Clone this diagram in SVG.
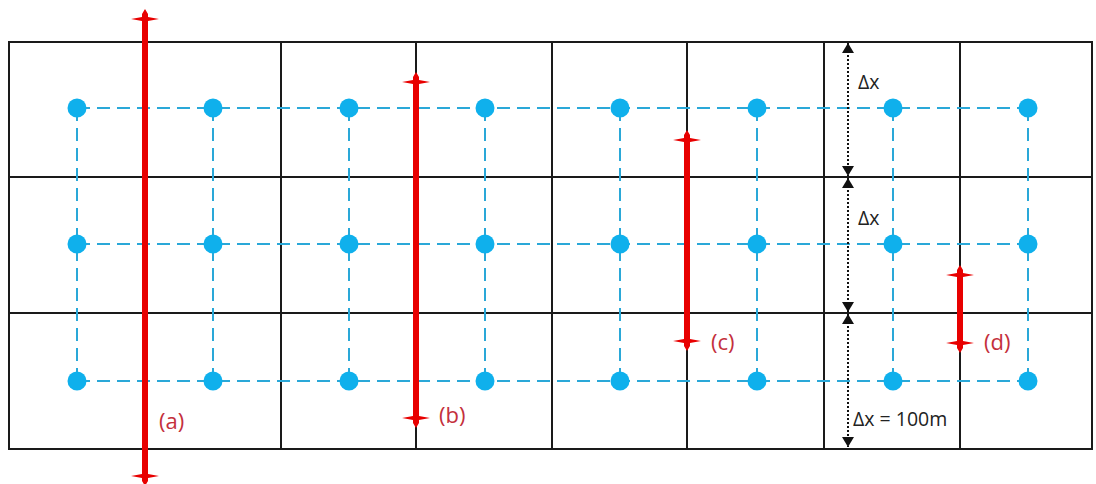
<svg xmlns="http://www.w3.org/2000/svg" width="1096" height="484" viewBox="0 0 1096 484">
  <style>
    .grid { stroke: #1a1a1a; stroke-width: 2; fill: none; }
    .dash { stroke: #2aa8d8; stroke-width: 2; stroke-dasharray: 13 7; fill: none; }
    .dot { fill: #0fb0ec; }
    .red { stroke: #e80000; stroke-width: 6; fill: none; }
    .cap { fill: #e80000; }
    .lbl { font-family: "Open Sans", "Liberation Sans", sans-serif; font-size: 22px; fill: #c4303c; }
    .dim { stroke: #111; stroke-width: 2; stroke-dasharray: 2 2; fill: none; }
    .dimtxt { font-family: "Open Sans", "Liberation Sans", sans-serif; font-size: 19.5px; fill: #222; }
  </style>
  <defs>
    <marker id="ah" viewBox="0 0 10 12" refX="10" refY="6" markerWidth="10" markerHeight="12" markerUnits="userSpaceOnUse" orient="auto-start-reverse">
      <path d="M0,0 L10,6 L0,12 Z" fill="#111"/>
    </marker>
    <path id="cap" d="M-14,0 L-3,-2 L-3,-5 L0,-10 L3,-5 L3,-2 L14,0 L3,2 L-3,2 Z"/>
  </defs>
  <rect width="1096" height="484" fill="#ffffff"/>

  <g id="grid" class="grid">
    <rect x="9" y="42" width="1083" height="407"/>
    <line x1="145" y1="42" x2="145" y2="449"/>
    <line x1="281" y1="42" x2="281" y2="449"/>
    <line x1="416" y1="42" x2="416" y2="449"/>
    <line x1="552" y1="42" x2="552" y2="449"/>
    <line x1="687" y1="42" x2="687" y2="449"/>
    <line x1="824" y1="42" x2="824" y2="449"/>
    <line x1="960" y1="42" x2="960" y2="449"/>
    <line x1="9" y1="177" x2="1092" y2="177"/>
    <line x1="9" y1="313" x2="1092" y2="313"/>
  </g>

  <g id="connectors" class="dash">
    <line x1="77" y1="108" x2="1028" y2="108"/>
    <line x1="77" y1="244" x2="1028" y2="244"/>
    <line x1="77" y1="381" x2="1028" y2="381"/>
    <line x1="77" y1="108" x2="77" y2="381"/>
    <line x1="213" y1="108" x2="213" y2="381"/>
    <line x1="349" y1="108" x2="349" y2="381"/>
    <line x1="485" y1="108" x2="485" y2="381"/>
    <line x1="620" y1="108" x2="620" y2="381"/>
    <line x1="757" y1="108" x2="757" y2="381"/>
    <line x1="893" y1="108" x2="893" y2="381"/>
    <line x1="1028" y1="108" x2="1028" y2="381"/>
  </g>

  <g id="nodes" class="dot">
    <g id="n-r1c1"><circle cx="77" cy="108" r="9.5"/></g>
    <g id="n-r1c2"><circle cx="213" cy="108" r="9.5"/></g>
    <g id="n-r1c3"><circle cx="349" cy="108" r="9.5"/></g>
    <g id="n-r1c4"><circle cx="485" cy="108" r="9.5"/></g>
    <g id="n-r1c5"><circle cx="620" cy="108" r="9.5"/></g>
    <g id="n-r1c6"><circle cx="757" cy="108" r="9.5"/></g>
    <g id="n-r1c7"><circle cx="893" cy="108" r="9.5"/></g>
    <g id="n-r1c8"><circle cx="1028" cy="108" r="9.5"/></g>
    <g id="n-r2c1"><circle cx="77" cy="244" r="9.5"/></g>
    <g id="n-r2c2"><circle cx="213" cy="244" r="9.5"/></g>
    <g id="n-r2c3"><circle cx="349" cy="244" r="9.5"/></g>
    <g id="n-r2c4"><circle cx="485" cy="244" r="9.5"/></g>
    <g id="n-r2c5"><circle cx="620" cy="244" r="9.5"/></g>
    <g id="n-r2c6"><circle cx="757" cy="244" r="9.5"/></g>
    <g id="n-r2c7"><circle cx="893" cy="244" r="9.5"/></g>
    <g id="n-r2c8"><circle cx="1028" cy="244" r="9.5"/></g>
    <g id="n-r3c1"><circle cx="77" cy="381" r="9.5"/></g>
    <g id="n-r3c2"><circle cx="213" cy="381" r="9.5"/></g>
    <g id="n-r3c3"><circle cx="349" cy="381" r="9.5"/></g>
    <g id="n-r3c4"><circle cx="485" cy="381" r="9.5"/></g>
    <g id="n-r3c5"><circle cx="620" cy="381" r="9.5"/></g>
    <g id="n-r3c6"><circle cx="757" cy="381" r="9.5"/></g>
    <g id="n-r3c7"><circle cx="893" cy="381" r="9.5"/></g>
    <g id="n-r3c8"><circle cx="1028" cy="381" r="9.5"/></g>
  </g>

  <g id="line-a">
    <line class="red" x1="145" y1="19" x2="145" y2="476"/>
    <use href="#cap" class="cap" transform="translate(145,19)"/>
    <use href="#cap" class="cap" transform="translate(145,476) rotate(180)"/>
    <text class="lbl" x="159" y="429">(a)</text>
  </g>
  <g id="line-b">
    <line class="red" x1="416" y1="82" x2="416" y2="418"/>
    <use href="#cap" class="cap" transform="translate(416,82)"/>
    <use href="#cap" class="cap" transform="translate(416,418) rotate(180)"/>
    <text class="lbl" x="439" y="423">(b)</text>
  </g>
  <g id="line-c">
    <line class="red" x1="687" y1="140" x2="687" y2="341"/>
    <use href="#cap" class="cap" transform="translate(687,140)"/>
    <use href="#cap" class="cap" transform="translate(687,341) rotate(180)"/>
    <text class="lbl" x="711" y="350">(c)</text>
  </g>
  <g id="line-d">
    <line class="red" x1="960" y1="275" x2="960" y2="343"/>
    <use href="#cap" class="cap" transform="translate(960,275)"/>
    <use href="#cap" class="cap" transform="translate(960,343) rotate(180)"/>
    <text class="lbl" x="984" y="350">(d)</text>
  </g>

  <g id="dimensions">
    <line class="dim" x1="848" y1="43" x2="848" y2="176" marker-start="url(#ah)" marker-end="url(#ah)"/>
    <line class="dim" x1="848" y1="178" x2="848" y2="312" marker-start="url(#ah)" marker-end="url(#ah)"/>
    <line class="dim" x1="848" y1="314" x2="848" y2="447" marker-start="url(#ah)" marker-end="url(#ah)"/>
    <text class="dimtxt" x="858" y="89">Δx</text>
    <text class="dimtxt" x="858" y="225">Δx</text>
    <text class="dimtxt" x="853" y="426">Δx = 100m</text>
  </g>
</svg>
